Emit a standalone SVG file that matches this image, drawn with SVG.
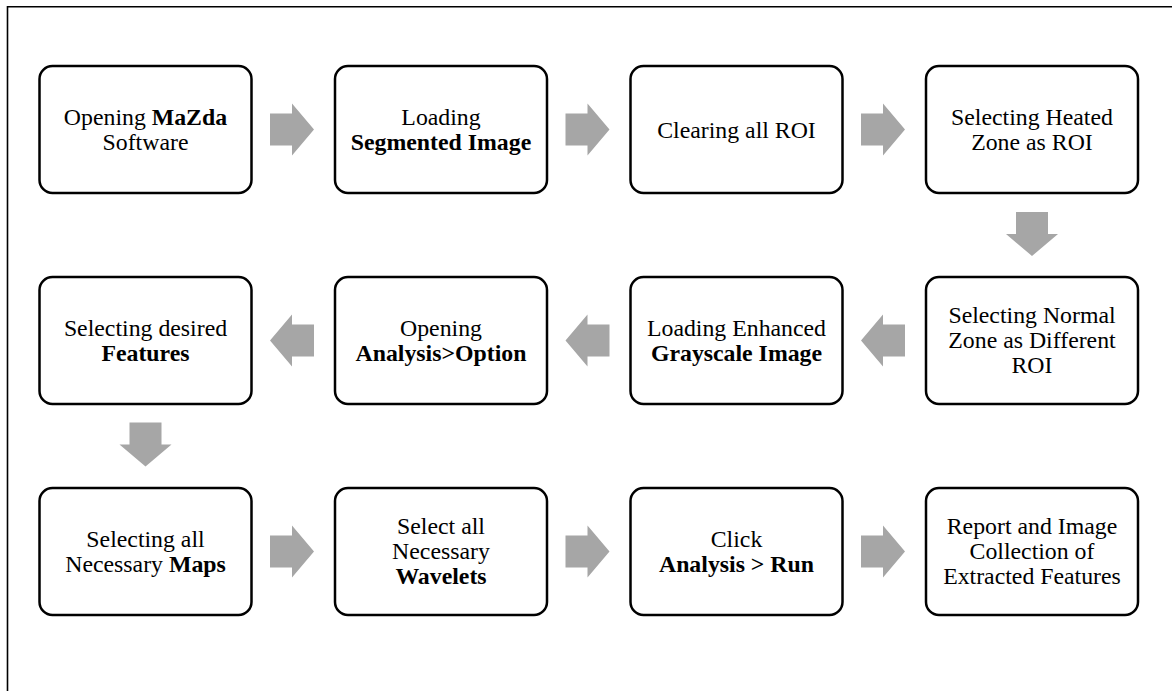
<svg xmlns="http://www.w3.org/2000/svg" width="1172" height="691" viewBox="0 0 1172 691">
  <defs>
    <style>
      .frame { fill: none; stroke: #000; stroke-width: 1.6; }
      .box { fill: #fff; stroke: #000; stroke-width: 2.5; }
      .label { font-size: 23.8px; fill: #000; text-anchor: middle; }
      .b { font-weight: bold; }
      .arrow { fill: #a6a6a6; }
    </style>
    <!-- block arrow pointing right, origin at tail centre -->
    <path id="arrowR" d="M0,-16 H22 V-26 L44,0 L22,26 V16 H0 Z"/>
  </defs>

  <rect width="1172" height="691" fill="#fff"/>
  <!-- outer frame: top and left edges -->
  <path class="frame" d="M7.5,691 V6.7 H1172"/>

  <g id="steps" font-family="Liberation Serif, Times New Roman, serif">
  <!-- row 1 -->
  <g id="step-1">
    <rect class="box" x="39.5" y="66" width="212" height="127" rx="13"/>
    <text class="label" x="145.5" y="124.5">Opening <tspan class="b">MaZda</tspan></text>
    <text class="label" x="145.5" y="149.5">Software</text>
  </g>
  <g id="step-2">
    <rect class="box" x="335" y="66" width="212" height="127" rx="13"/>
    <text class="label" x="441" y="124.5">Loading</text>
    <text class="label b" x="441" y="149.5">Segmented Image</text>
  </g>
  <g id="step-3">
    <rect class="box" x="630.5" y="66" width="212" height="127" rx="13"/>
    <text class="label" x="736.5" y="137.5">Clearing all ROI</text>
  </g>
  <g id="step-4">
    <rect class="box" x="926" y="66" width="212" height="127" rx="13"/>
    <text class="label" x="1032" y="124.5">Selecting Heated</text>
    <text class="label" x="1032" y="149.5">Zone as ROI</text>
  </g>

  <!-- row 2 (right to left) -->
  <g id="step-5">
    <rect class="box" x="926" y="277" width="212" height="127" rx="13"/>
    <text class="label" x="1032" y="323">Selecting Normal</text>
    <text class="label" x="1032" y="348">Zone as Different</text>
    <text class="label" x="1032" y="373">ROI</text>
  </g>
  <g id="step-6">
    <rect class="box" x="630.5" y="277" width="212" height="127" rx="13"/>
    <text class="label" x="736.5" y="335.5">Loading Enhanced</text>
    <text class="label b" x="736.5" y="360.5">Grayscale Image</text>
  </g>
  <g id="step-7">
    <rect class="box" x="335" y="277" width="212" height="127" rx="13"/>
    <text class="label" x="441" y="335.5">Opening</text>
    <text class="label b" x="441" y="360.5">Analysis&gt;Option</text>
  </g>
  <g id="step-8">
    <rect class="box" x="39.5" y="277" width="212" height="127" rx="13"/>
    <text class="label" x="145.5" y="335.5">Selecting desired</text>
    <text class="label b" x="145.5" y="360.5">Features</text>
  </g>

  <!-- row 3 -->
  <g id="step-9">
    <rect class="box" x="39.5" y="488" width="212" height="127" rx="13"/>
    <text class="label" x="145.5" y="546.5">Selecting all</text>
    <text class="label" x="145.5" y="571.5">Necessary <tspan class="b">Maps</tspan></text>
  </g>
  <g id="step-10">
    <rect class="box" x="335" y="488" width="212" height="127" rx="13"/>
    <text class="label" x="441" y="534">Select all</text>
    <text class="label" x="441" y="559">Necessary</text>
    <text class="label b" x="441" y="584">Wavelets</text>
  </g>
  <g id="step-11">
    <rect class="box" x="630.5" y="488" width="212" height="127" rx="13"/>
    <text class="label" x="736.5" y="546.5">Click</text>
    <text class="label b" x="736.5" y="571.5">Analysis &gt; Run</text>
  </g>
  <g id="step-12">
    <rect class="box" x="926" y="488" width="212" height="127" rx="13"/>
    <text class="label" x="1032" y="534">Report and Image</text>
    <text class="label" x="1032" y="559">Collection of</text>
    <text class="label" x="1032" y="584">Extracted Features</text>
  </g>
  </g>

  <!-- connectors -->
  <g id="connectors" class="arrow">
    <use href="#arrowR" transform="translate(270,129.5)"/>
    <use href="#arrowR" transform="translate(565.5,129.5)"/>
    <use href="#arrowR" transform="translate(861,129.5)"/>
    <use href="#arrowR" transform="translate(1032,212) rotate(90)"/>
    <use href="#arrowR" transform="translate(905,340.5) rotate(180)"/>
    <use href="#arrowR" transform="translate(609.5,340.5) rotate(180)"/>
    <use href="#arrowR" transform="translate(314,340.5) rotate(180)"/>
    <use href="#arrowR" transform="translate(145.5,422.5) rotate(90)"/>
    <use href="#arrowR" transform="translate(270,551.5)"/>
    <use href="#arrowR" transform="translate(565.5,551.5)"/>
    <use href="#arrowR" transform="translate(861,551.5)"/>
  </g>
</svg>
